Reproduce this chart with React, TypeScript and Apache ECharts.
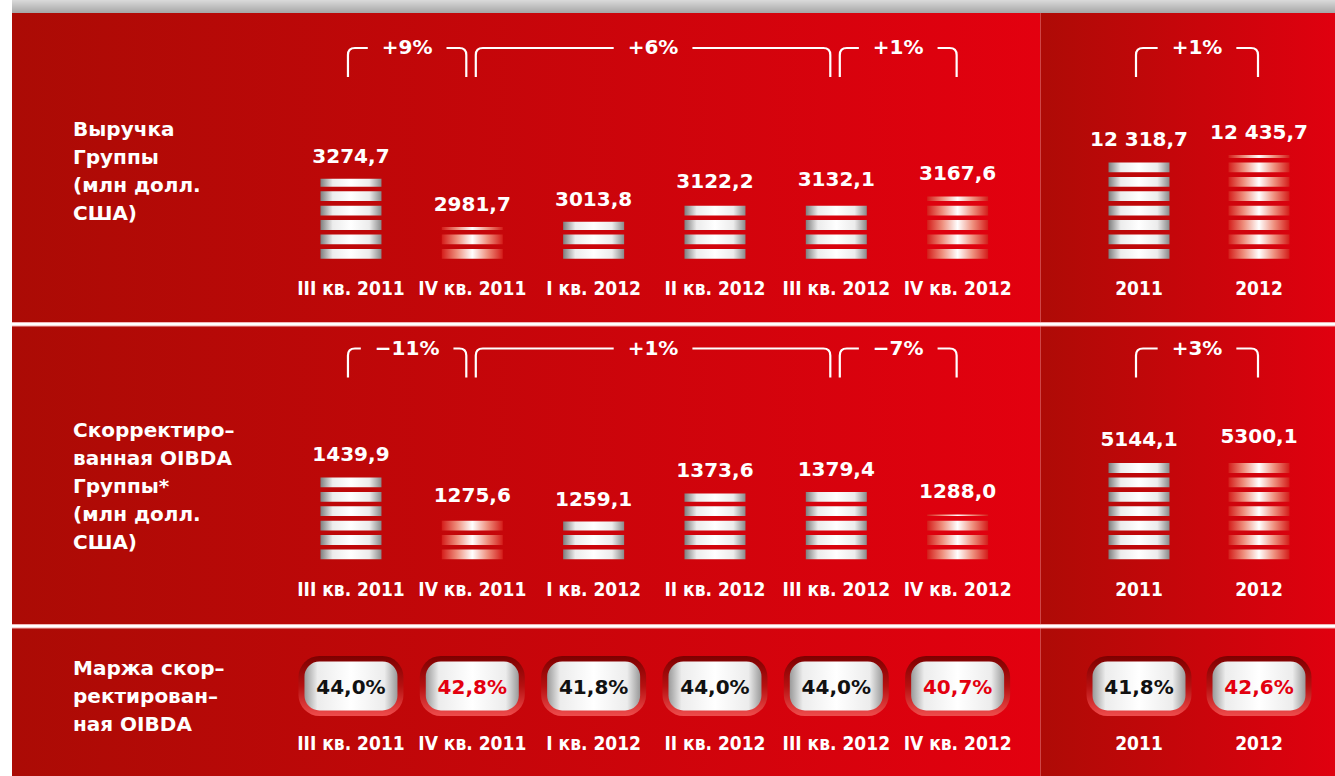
import React, { useEffect, useRef } from "react";
import * as echarts from "echarts";

// ---------- data ----------
const quarters = ["III кв. 2011", "IV кв. 2011", "I кв. 2012", "II кв. 2012", "III кв. 2012", "IV кв. 2012"];
const years = ["2011", "2012"];
const revenueQ = [3274.7, 2981.7, 3013.8, 3122.2, 3132.1, 3167.6];
const revenueY = [12318.7, 12435.7];
const oibdaQ = [1439.9, 1275.6, 1259.1, 1373.6, 1379.4, 1288.0];
const oibdaY = [5144.1, 5300.1];
const marginQ = [44.0, 42.8, 41.8, 44.0, 44.0, 40.7];
const marginY = [41.8, 42.6];
const highlightQ = [0, 1, 0, 0, 0, 1];
const highlightY = [0, 1];
const revenueChangeQ: [number, number, string][] = [[0, 1, "+9%"], [1, 4, "+6%"], [4, 5, "+1%"]];
const revenueChangeY: [number, number, string][] = [[0, 1, "+1%"]];
const oibdaChangeQ: [number, number, string][] = [[0, 1, "\u221211%"], [1, 4, "+1%"], [4, 5, "\u22127%"]];
const oibdaChangeY: [number, number, string][] = [[0, 1, "+3%"]];
const titleRevenue = ["Выручка", "Группы", "(млн долл.", "США)"];
const titleOibda = ["Скорректиро–", "ванная OIBDA", "Группы*", "(млн долл.", "США)"];
const titleMargin = ["Маржа скор–", "ректирован–", "ная OIBDA"];

// ---------- styles ----------
const FONT = '"DejaVu Sans", "Liberation Sans", sans-serif';
const FONT_NARROW = '"DejaVu Sans Condensed", "Liberation Sans Narrow", "DejaVu Sans", sans-serif';
const STRIPE_P = 14.4;
const STRIPE_H = 9.8;
const BAR_W = 61;

const lin = (x2: number, y2: number, stops: [number, string][]) => ({
  type: "linear", x: 0, y: 0, x2, y2, global: false,
  colorStops: stops.map(([offset, color]) => ({ offset, color })),
});
const normGrad = lin(1, 0, [[0, "#7e7e7e"], [0.2, "#ececec"], [0.5, "#ffffff"], [0.8, "#ececec"], [1, "#8a8a8a"]]);
const hlGrad = lin(1, 0, [[0, "#d41d1a"], [0.25, "#ee8f7d"], [0.5, "#ffffff"], [0.75, "#ee8f7d"], [1, "#d41d1a"]]);
const pillOuter = lin(0, 1, [[0, "#7d0000"], [0.5, "#b51010"], [1, "#ef4c4c"]]);
const pillInner = lin(1, 0, [[0, "#9a9a9a"], [0.14, "#ececec"], [0.5, "#ffffff"], [0.86, "#ececec"], [1, "#9a9a9a"]]);

const fmt = (v: number) => {
  const [i, d] = v.toFixed(1).split(".");
  const g = i.length > 4 ? i.replace(/\B(?=(\d{3})+(?!\d))/g, "\u00a0") : i;
  return g + "," + d;
};
const fmtPct = (v: number) => v.toFixed(1).replace(".", ",") + "%";

let measureCtx: CanvasRenderingContext2D | null = null;
const textWidth = (t: string, font: string) => {
  if (!measureCtx) measureCtx = document.createElement("canvas").getContext("2d");
  if (!measureCtx) return t.length * 13;
  measureCtx.font = font;
  return measureCtx.measureText(t).width;
};

const barRender = (hl: number[]) => (params: any, api: any) => {
  const idx = api.value(0);
  const v = api.value(1);
  const pt = api.coord([idx, v]);
  const cs = params.coordSys;
  const bottom = cs.y + cs.height;
  const top = pt[1];
  const cx = pt[0];
  const fill = hl[idx] ? hlGrad : normGrad;
  const children: any[] = [];
  for (let k = 0; k < 40; k++) {
    const sb = bottom - k * STRIPE_P;
    const st = sb - STRIPE_H;
    if (sb <= top) break;
    const y0 = Math.max(st, top);
    children.push({
      type: "rect",
      shape: { x: cx - BAR_W / 2, y: y0, width: BAR_W, height: sb - y0 },
      style: { fill },
    });
  }
  children.push({
    type: "text",
    x: cx,
    y: top - 23,
    style: { text: fmt(v), fill: "#ffffff", font: `bold 20px ${FONT}`, align: "center", verticalAlign: "middle" },
  });
  return { type: "group", children };
};

const pillRender = (hl: number[]) => (params: any, api: any) => {
  const idx = api.value(0);
  const v = api.value(1);
  const cs = params.coordSys;
  const cx = api.coord([idx, 0.5])[0];
  const cy = cs.y + cs.height / 2;
  return {
    type: "group",
    children: [
      { type: "rect", shape: { x: cx - 52.5, y: cy - 30, width: 105, height: 60, r: 21 }, style: { fill: pillOuter } },
      { type: "rect", shape: { x: cx - 46.5, y: cy - 24.5, width: 93, height: 49, r: 15 }, style: { fill: pillInner } },
      {
        type: "text", x: cx, y: cy + 1,
        style: { text: fmtPct(v), fill: hl[idx] ? "#e3000f" : "#111111", font: `bold 20px ${FONT}`, align: "center", verticalAlign: "middle" },
      },
    ],
  };
};

const bracketRender = (list: [number, number, string][]) => (params: any, api: any) => {
  const [from, to, label] = list[params.dataIndex];
  const sharedStart = list.some((b) => b[1] === from);
  const sharedEnd = list.some((b) => b[0] === to);
  const cs = params.coordSys;
  const x1 = api.coord([from, 0.5])[0] + (sharedStart ? 3.5 : -3);
  const x2 = api.coord([to, 0.5])[0] + (sharedEnd ? -6 : -1);
  const yT = cs.y;
  const yB = cs.y + cs.height;
  const r = 7;
  const mid = (x1 + x2) / 2;
  const font = `bold 20px ${FONT}`;
  const g = textWidth(label, font) / 2 + 14;
  const d =
    `M ${x1} ${yB} L ${x1} ${yT + r} Q ${x1} ${yT} ${x1 + r} ${yT} L ${mid - g} ${yT} ` +
    `M ${mid + g} ${yT} L ${x2 - r} ${yT} Q ${x2} ${yT} ${x2} ${yT + r} L ${x2} ${yB}`;
  return {
    type: "group",
    children: [
      { type: "path", shape: { pathData: d }, style: { stroke: "#ffffff", lineWidth: 2.2, fill: "none" } },
      { type: "text", x: mid, y: yT - 1, style: { text: label, fill: "#ffffff", font, align: "center", verticalAlign: "middle" } },
    ],
  };
};

// grid geometry
const Q_LEFT = 290.3;
const Q_RIGHT = 1335 - 1018.3;
const Y_LEFT = 1079;
const Y_RIGHT = 16;
const ROW1_TOP = 148.7;
const ROW2_TOP = 449.3;
const BAR_H = 110;

export default function App() {
  const ref = useRef<HTMLDivElement>(null);
  useEffect(() => {
    if (!ref.current) return;
    const chart = echarts.init(ref.current, undefined, { renderer: "svg" });

    const grids = [
      { left: Q_LEFT, right: Q_RIGHT, top: ROW1_TOP, height: BAR_H }, // 0
      { left: Y_LEFT, right: Y_RIGHT, top: ROW1_TOP, height: BAR_H }, // 1
      { left: Q_LEFT, right: Q_RIGHT, top: ROW2_TOP, height: BAR_H }, // 2
      { left: Y_LEFT, right: Y_RIGHT, top: ROW2_TOP, height: BAR_H }, // 3
      { left: Q_LEFT, right: Q_RIGHT, top: 656, height: 60 }, // 4
      { left: Y_LEFT, right: Y_RIGHT, top: 656, height: 60 }, // 5
      { left: Q_LEFT, right: Q_RIGHT, top: 48, height: 29 }, // 6
      { left: Y_LEFT, right: Y_RIGHT, top: 48, height: 29 }, // 7
      { left: Q_LEFT, right: Q_RIGHT, top: 348.5, height: 29 }, // 8
      { left: Y_LEFT, right: Y_RIGHT, top: 348.5, height: 29 }, // 9
    ];
    const showLabels = [true, true, true, true, true, true, false, false, false, false];
    const xAxis = grids.map((_, i) => ({
      type: "category",
      gridIndex: i,
      data: i % 2 === 0 ? quarters : years,
      axisLine: { show: false },
      axisTick: { show: false },
      splitLine: { show: false },
      axisLabel: {
        show: showLabels[i],
        color: "#ffffff",
        fontFamily: FONT_NARROW,
        fontWeight: "bold",
        fontSize: 19,
        margin: i >= 4 ? 17 : 20,
        interval: 0,
      },
    }));
    const yRanges: [number, number][] = [
      [2790, 3457],
      [10649, 12542],
      [1105, 1554],
      [100, 5820],
      [0, 1], [0, 1], [0, 1], [0, 1], [0, 1], [0, 1],
    ];
    const yAxis = yRanges.map(([min, max], i) => ({
      type: "value", gridIndex: i, min, max, show: false, splitLine: { show: false },
    }));

    const toData = (vals: number[]) => vals.map((v, i) => [i, v]);
    const bracketData = (list: [number, number, string][]) => list.map((b) => [b[0], b[1]]);

    const series: any[] = [
      { type: "custom", xAxisIndex: 0, yAxisIndex: 0, data: toData(revenueQ), renderItem: barRender(highlightQ) },
      { type: "custom", xAxisIndex: 1, yAxisIndex: 1, data: toData(revenueY), renderItem: barRender(highlightY) },
      { type: "custom", xAxisIndex: 2, yAxisIndex: 2, data: toData(oibdaQ), renderItem: barRender(highlightQ) },
      { type: "custom", xAxisIndex: 3, yAxisIndex: 3, data: toData(oibdaY), renderItem: barRender(highlightY) },
      { type: "custom", xAxisIndex: 4, yAxisIndex: 4, data: toData(marginQ), renderItem: pillRender(highlightQ) },
      { type: "custom", xAxisIndex: 5, yAxisIndex: 5, data: toData(marginY), renderItem: pillRender(highlightY) },
      { type: "custom", xAxisIndex: 6, yAxisIndex: 6, data: bracketData(revenueChangeQ), renderItem: bracketRender(revenueChangeQ) },
      { type: "custom", xAxisIndex: 7, yAxisIndex: 7, data: bracketData(revenueChangeY), renderItem: bracketRender(revenueChangeY) },
      { type: "custom", xAxisIndex: 8, yAxisIndex: 8, data: bracketData(oibdaChangeQ), renderItem: bracketRender(oibdaChangeQ) },
      { type: "custom", xAxisIndex: 9, yAxisIndex: 9, data: bracketData(oibdaChangeY), renderItem: bracketRender(oibdaChangeY) },
    ];

    const titleText = (lines: string[], cy: number) => ({
      type: "text",
      x: 73,
      y: cy,
      z: 10,
      style: {
        text: lines.join("\n"),
        fill: "#ffffff",
        font: `bold 20px ${FONT}`,
        lineHeight: 28,
        verticalAlign: "middle",
        align: "left",
      },
    });

    const hLine = (y: number) => [
      { type: "rect", z: 1, shape: { x: 12, y: y - 1, width: 1323, height: 4.5 }, style: { fill: "#f2b4b4" } },
      { type: "rect", z: 2, shape: { x: 12, y: y, width: 1323, height: 2.4 }, style: { fill: "#ffffff" } },
    ];

    chart.setOption({
      animation: false,
      backgroundColor: "#ffffff",
      graphic: [
        { type: "rect", z: 0, shape: { x: 12, y: 0, width: 1323, height: 13 }, style: { fill: lin(0, 1, [[0, "#dadada"], [1, "#a6a6a6"]]) } },
        { type: "rect", z: 0, shape: { x: 12, y: 13, width: 1028.5, height: 763 }, style: { fill: lin(1, 0, [[0, "#ab0b05"], [1, "#e3000f"]]) } },
        { type: "rect", z: 0, shape: { x: 1040.5, y: 13, width: 294.5, height: 763 }, style: { fill: lin(1, 0, [[0, "#ae0b06"], [1, "#e0000f"]]) } },
        ...hLine(323),
        ...hLine(625),
        titleText(titleRevenue, 171),
        titleText(titleOibda, 486),
        titleText(titleMargin, 696),
      ],
      grid: grids,
      xAxis,
      yAxis,
      series,
    });
    return () => chart.dispose();
  }, []);
  return <div ref={ref} style={{ position: "fixed", left: 0, top: 0, width: 1335, height: 776 }} />;
}
